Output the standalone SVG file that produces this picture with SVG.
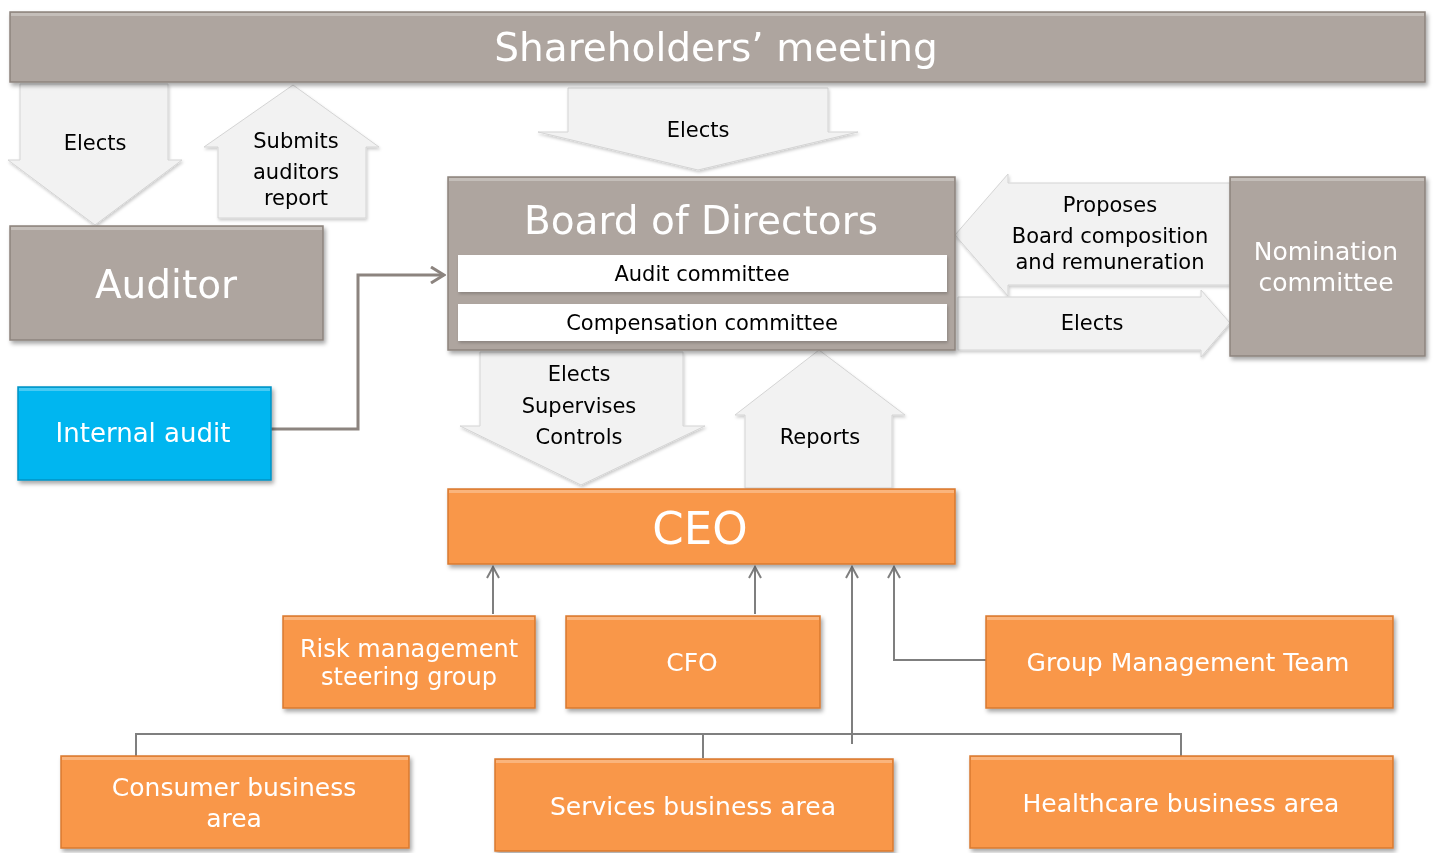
<svg xmlns="http://www.w3.org/2000/svg" width="1433" height="853" viewBox="0 0 1433 853">
<style>
text{font-family:"DejaVu Sans","Verdana",sans-serif;text-anchor:middle}
.gray{fill:#aea59f;stroke:#8d847e;stroke-width:1.5}
.orange{fill:#f9974a;stroke:#d97a30;stroke-width:1.5}
.cyan{fill:#00b6f0;stroke:#0092c4;stroke-width:1.5}
.white{fill:#ffffff}
.hl{fill:#ffffff;opacity:0.28}
.arr{fill:#f2f2f2;stroke:#d4d4d4;stroke-width:1}
.wt{fill:#ffffff}
.bt{fill:#000000}
.thin{fill:none;stroke:#7f7f7f;stroke-width:2}
.thick{fill:none;stroke:#8c847f;stroke-width:3}
</style>
<defs>
<filter id="sh" x="-5%" y="-10%" width="115%" height="130%">
<feDropShadow dx="2" dy="3" stdDeviation="2" flood-color="#000" flood-opacity="0.35"/>
</filter>
<filter id="sh2" x="-10%" y="-10%" width="120%" height="130%">
<feDropShadow dx="1" dy="2" stdDeviation="1.5" flood-color="#000" flood-opacity="0.2"/>
</filter>
<marker id="ah" markerWidth="14" markerHeight="14" refX="12" refY="7" orient="auto" markerUnits="userSpaceOnUse">
<path d="M1,1 L12,7 L1,13" fill="none" stroke="#7f7f7f" stroke-width="2"/>
</marker>
<marker id="ah2" markerWidth="16" markerHeight="18" refX="14" refY="9" orient="auto" markerUnits="userSpaceOnUse">
<path d="M1,1 L14,9 L1,17" fill="none" stroke="#8c847f" stroke-width="3"/>
</marker>
</defs>

<g id="flow-arrows">
<g id="arrow-elects-auditor" filter="url(#sh2)">
<polygon class="arr" points="20,84 168,84 168,160 182,160 95,225 8,160 20,160"/>
<text class="bt" x="95" y="150" font-size="21">Elects</text>
</g>
<g id="arrow-submits" filter="url(#sh2)">
<polygon class="arr" points="293,85 379,147 366,147 366,218 218,218 218,147 204,147"/>
<text class="bt" x="296" y="148" font-size="21">Submits</text>
<text class="bt" x="296" y="179" font-size="21">auditors</text>
<text class="bt" x="296" y="205" font-size="21">report</text>
</g>
<g id="arrow-elects-board" filter="url(#sh2)">
<polygon class="arr" points="568,88 828,88 828,132 858,132 698,170 538,132 568,132"/>
<text class="bt" x="698" y="137" font-size="21">Elects</text>
</g>
<g id="arrow-proposes" filter="url(#sh2)">
<polygon class="arr" points="955,235 1008,174 1008,183 1230,183 1230,285 1008,285 1008,296"/>
<text class="bt" x="1110" y="212" font-size="21">Proposes</text>
<text class="bt" x="1110" y="243" font-size="21">Board composition</text>
<text class="bt" x="1110" y="269" font-size="21">and remuneration</text>
</g>
<g id="arrow-elects-nomination" filter="url(#sh2)">
<polygon class="arr" points="958,297 1201,297 1201,290 1230,323 1201,357 1201,350 958,350"/>
<text class="bt" x="1092" y="330" font-size="21">Elects</text>
</g>
<g id="arrow-elects-ceo" filter="url(#sh2)">
<polygon class="arr" points="480,352 683,352 683,426 705,426 581,485 460,426 480,426"/>
<text class="bt" x="579" y="381" font-size="21">Elects</text>
<text class="bt" x="579" y="413" font-size="21">Supervises</text>
<text class="bt" x="579" y="444" font-size="21">Controls</text>
</g>
<g id="arrow-reports" filter="url(#sh2)">
<polygon class="arr" points="819,350 905,415 892,415 892,488 745,488 745,415 735,415"/>
<text class="bt" x="820" y="444" font-size="21">Reports</text>
</g>
</g>

<g id="connectors">
<polyline class="thick" points="271,429 358,429 358,275 444,275" marker-end="url(#ah2)"/>
<line class="thin" x1="493" y1="614" x2="493" y2="567" marker-end="url(#ah)"/>
<line class="thin" x1="755" y1="614" x2="755" y2="567" marker-end="url(#ah)"/>
<polyline class="thin" points="986,660 894,660 894,567" marker-end="url(#ah)"/>
<line class="thin" x1="852" y1="744" x2="852" y2="567" marker-end="url(#ah)"/>
<polyline class="thin" points="136,756 136,734 1181,734 1181,756"/>
<line class="thin" x1="703" y1="734" x2="703" y2="758"/>
</g>

<g id="shareholders" filter="url(#sh)">
<rect class="gray" x="10" y="12" width="1415" height="70"/>
<rect class="hl" x="11" y="13" width="1413" height="3"/>
<text class="wt" x="716" y="61" font-size="39">Shareholders’ meeting</text>
</g>

<g id="auditor" filter="url(#sh)">
<rect class="gray" x="10" y="226" width="313" height="114"/>
<rect class="hl" x="11" y="227" width="311" height="3"/>
<text class="wt" x="166" y="298" font-size="39">Auditor</text>
</g>

<g id="board" filter="url(#sh)">
<rect class="gray" x="448" y="177" width="507" height="173"/>
<rect class="hl" x="449" y="178" width="505" height="3"/>
<text class="wt" x="701" y="234" font-size="39">Board of Directors</text>
<g id="audit-committee" filter="url(#sh2)">
<rect class="white" x="458" y="255" width="489" height="37"/>
<text class="bt" x="702" y="281" font-size="21">Audit committee</text>
</g>
<g id="compensation-committee" filter="url(#sh2)">
<rect class="white" x="458" y="304" width="489" height="37"/>
<text class="bt" x="702" y="330" font-size="21">Compensation committee</text>
</g>
</g>

<g id="nomination" filter="url(#sh)">
<rect class="gray" x="1230" y="177" width="195" height="179"/>
<rect class="hl" x="1231" y="178" width="193" height="3"/>
<text class="wt" x="1326" y="260" font-size="25">Nomination</text>
<text class="wt" x="1326" y="291" font-size="25">committee</text>
</g>

<g id="internal-audit" filter="url(#sh)">
<rect class="cyan" x="18" y="387" width="253" height="93"/>
<rect class="hl" x="19" y="388" width="251" height="3"/>
<text class="wt" x="143" y="442" font-size="26">Internal audit</text>
</g>

<g id="ceo" filter="url(#sh)">
<rect class="orange" x="448" y="489" width="507" height="75"/>
<rect class="hl" x="449" y="490" width="505" height="3"/>
<text class="wt" x="700" y="544" font-size="45">CEO</text>
</g>

<g id="risk" filter="url(#sh)">
<rect class="orange" x="283" y="616" width="252" height="92"/>
<rect class="hl" x="284" y="617" width="250" height="3"/>
<text class="wt" x="409" y="657" font-size="24">Risk management</text>
<text class="wt" x="409" y="685" font-size="24">steering group</text>
</g>

<g id="cfo" filter="url(#sh)">
<rect class="orange" x="566" y="616" width="254" height="92"/>
<rect class="hl" x="567" y="617" width="252" height="3"/>
<text class="wt" x="692" y="671" font-size="25">CFO</text>
</g>

<g id="gmt" filter="url(#sh)">
<rect class="orange" x="986" y="616" width="407" height="92"/>
<rect class="hl" x="987" y="617" width="405" height="3"/>
<text class="wt" x="1188" y="671" font-size="25">Group Management Team</text>
</g>

<g id="consumer" filter="url(#sh)">
<rect class="orange" x="61" y="756" width="348" height="92"/>
<rect class="hl" x="62" y="757" width="346" height="3"/>
<text class="wt" x="234" y="796" font-size="25">Consumer business</text>
<text class="wt" x="234" y="827" font-size="25">area</text>
</g>

<g id="services" filter="url(#sh)">
<rect class="orange" x="495" y="759" width="398" height="92"/>
<rect class="hl" x="496" y="760" width="396" height="3"/>
<text class="wt" x="693" y="815" font-size="25">Services business area</text>
</g>

<g id="healthcare" filter="url(#sh)">
<rect class="orange" x="970" y="756" width="423" height="92"/>
<rect class="hl" x="971" y="757" width="421" height="3"/>
<text class="wt" x="1181" y="812" font-size="25">Healthcare business area</text>
</g>
</svg>
